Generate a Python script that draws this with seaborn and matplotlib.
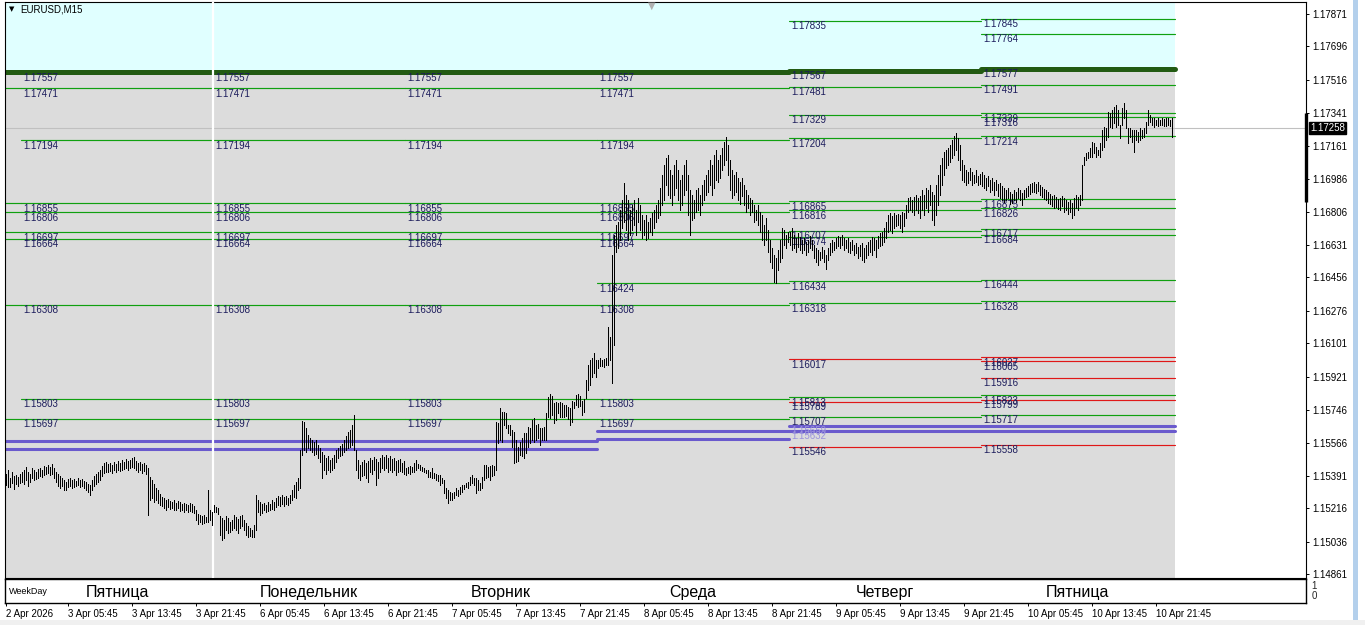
import numpy as np
import pandas as pd
import matplotlib
matplotlib.use("Agg")
import matplotlib.pyplot as plt
import matplotlib.transforms as mtransforms
from matplotlib.patches import Rectangle
import seaborn as sns

# ---- data ----------------------------------------------------------------
symbol = "EURUSD,M15"
# M15 bars per chart day (first block is the tail of Thursday 2 Apr)
day_names = ["", "Пятница", "Понедельник", "Вторник", "Среда", "Четверг", "Пятница"]
day_bars = [8, 96, 96, 96, 96, 96, 96]

# bar highs / lows in points (1e-5) above 1.15000
thu0_hi = [400, 420, 380, 410, 390, 395, 385, 400]
thu0_lo = [340, 330, 330, 350, 320, 345, 335, 350]
fri_hi = [410, 421, 437, 410, 400, 432, 421, 410, 427, 432,
          421, 443, 437, 448, 437, 453, 432, 410, 400, 389,
          378, 368, 357, 373, 378, 368, 373, 362, 378, 368,
          373, 362, 357, 346, 341, 368, 389, 400, 410, 421,
          443, 459, 464, 453, 459, 448, 464, 453, 470, 459,
          475, 464, 480, 470, 475, 486, 491, 470, 459, 464,
          453, 459, 448, 432, 384, 368, 346, 325, 314, 292,
          276, 271, 260, 265, 255, 249, 260, 244, 255, 249,
          239, 244, 239, 233, 244, 239, 228, 206, 185, 179,
          174, 179, 169, 314, 206, 196]
fri_lo = [357, 346, 368, 335, 357, 378, 368, 373, 378, 389,
          384, 394, 400, 405, 394, 400, 378, 357, 335, 325,
          335, 314, 314, 330, 335, 325, 330, 335, 341, 330,
          335, 325, 314, 303, 287, 314, 335, 346, 357, 368,
          389, 405, 410, 410, 416, 405, 421, 410, 421, 416,
          421, 427, 432, 421, 432, 437, 432, 421, 410, 421,
          405, 416, 400, 179, 260, 271, 249, 260, 244, 233,
          228, 217, 206, 222, 212, 217, 206, 206, 217, 201,
          206, 196, 206, 196, 201, 196, 190, 153, 131, 142,
          131, 136, 142, 142, 153, 126]
mon_hi = [233, 222, 217, 174, 163, 153, 174, 163, 142, 153,
          179, 169, 158, 174, 179, 153, 136, 120, 110, 99,
          126, 287, 260, 249, 239, 244, 233, 249, 239, 260,
          249, 271, 282, 276, 287, 276, 282, 271, 287, 314,
          341, 357, 378, 529, 684, 679, 647, 609, 593, 582,
          572, 582, 555, 539, 518, 502, 486, 496, 475, 486,
          502, 529, 539, 550, 561, 582, 604, 625, 636, 663,
          717, 529, 475, 448, 464, 475, 459, 470, 486, 475,
          491, 480, 464, 486, 502, 491, 502, 486, 496, 480,
          486, 470, 475, 480, 459, 470]
mon_lo = [196, 196, 185, 72, 45, 56, 99, 83, 88, 99,
          110, 99, 83, 110, 120, 99, 72, 61, 67, 61,
          61, 99, 196, 179, 190, 206, 196, 201, 206, 212,
          206, 222, 233, 228, 239, 228, 239, 233, 244, 260,
          276, 271, 314, 325, 502, 529, 518, 539, 529, 518,
          502, 507, 486, 464, 378, 421, 400, 421, 410, 421,
          432, 464, 486, 496, 502, 518, 529, 539, 545, 555,
          529, 421, 378, 368, 389, 394, 378, 357, 410, 400,
          421, 341, 378, 410, 432, 421, 432, 410, 421, 410,
          421, 394, 410, 416, 410, 400]
tue_hi = [432, 437, 443, 437, 459, 475, 453, 448, 437, 432,
          421, 421, 410, 432, 405, 400, 394, 394, 378, 367,
          325, 314, 303, 298, 303, 325, 314, 330, 341, 341,
          351, 357, 384, 394, 378, 378, 367, 351, 384, 448,
          448, 437, 443, 448, 443, 679, 674, 754, 733, 733,
          727, 663, 663, 636, 625, 582, 545, 572, 593, 620,
          620, 652, 647, 690, 701, 663, 668, 647, 647, 652,
          727, 813, 829, 819, 781, 787, 781, 787, 781, 770,
          770, 760, 754, 792, 787, 824, 829, 819, 792, 803,
          905, 985, 1012, 1023, 1050, 1012]
tue_lo = [394, 405, 400, 410, 410, 421, 432, 421, 416, 410,
          405, 384, 384, 378, 378, 367, 362, 341, 351, 298,
          271, 244, 260, 260, 271, 287, 282, 292, 303, 319,
          330, 325, 341, 351, 341, 298, 314, 314, 325, 367,
          378, 384, 367, 389, 394, 421, 566, 582, 572, 663,
          647, 620, 609, 545, 459, 464, 470, 502, 496, 486,
          513, 545, 566, 582, 572, 582, 593, 555, 582, 582,
          582, 706, 701, 717, 674, 690, 727, 706, 706, 706,
          711, 695, 663, 679, 754, 770, 760, 765, 717, 733,
          808, 851, 878, 921, 942, 921]
wed_hi = [1012, 1023, 1012, 1017, 1023, 1189, 1136, 1576, 1684, 1737,
          1753, 1818, 1872, 1963, 1898, 1872, 1818, 1845, 1872, 1818,
          1882, 1845, 1791, 1764, 1791, 1753, 1775, 1802, 1818, 1845,
          1872, 1936, 2006, 2060, 2097, 2113, 2033, 2006, 2060, 2087,
          2033, 1979, 2006, 2060, 2087, 2006, 1925, 1898, 1872, 1925,
          1936, 1898, 1952, 1979, 2006, 2033, 2087, 2060, 2113, 2140,
          2087, 2113, 2151, 2183, 2210, 2167, 2087, 2033, 2006, 2022,
          1990, 1968, 1990, 1952, 1925, 1898, 1882, 1872, 1845, 1818,
          1845, 1807, 1791, 1737, 1775, 1710, 1657, 1614, 1576, 1560,
          1603, 1657, 1721, 1710, 1684, 1700]
wed_lo = [969, 980, 980, 974, 985, 985, 1012, 888, 1093, 1592,
          1614, 1657, 1721, 1753, 1710, 1657, 1684, 1710, 1737, 1684,
          1753, 1710, 1667, 1684, 1657, 1667, 1700, 1684, 1721, 1753,
          1775, 1791, 1845, 1872, 1952, 1898, 1882, 1845, 1898, 1936,
          1872, 1818, 1845, 1898, 1925, 1791, 1684, 1764, 1775, 1807,
          1818, 1791, 1845, 1872, 1898, 1915, 1952, 1898, 1936, 1979,
          1968, 1990, 2033, 2060, 2087, 2006, 1925, 1882, 1898, 1915,
          1872, 1850, 1893, 1845, 1807, 1829, 1791, 1807, 1753, 1764,
          1737, 1700, 1657, 1630, 1657, 1592, 1539, 1506, 1431, 1426,
          1496, 1539, 1560, 1630, 1614, 1646]
thu_hi = [1700, 1721, 1684, 1667, 1694, 1673, 1657, 1667, 1646, 1657,
          1678, 1657, 1630, 1614, 1603, 1592, 1619, 1603, 1576, 1614,
          1641, 1657, 1646, 1667, 1678, 1673, 1684, 1667, 1657, 1667,
          1646, 1657, 1630, 1641, 1619, 1630, 1641, 1614, 1630, 1646,
          1657, 1673, 1667, 1657, 1678, 1694, 1700, 1721, 1753, 1791,
          1802, 1786, 1802, 1791, 1796, 1791, 1807, 1802, 1845, 1882,
          1888, 1872, 1888, 1898, 1882, 1893, 1925, 1898, 1936, 1925,
          1952, 1915, 1898, 1952, 2006, 2060, 2097, 2129, 2140, 2151,
          2167, 2194, 2215, 2232, 2205, 2167, 2087, 2060, 2033, 2022,
          2044, 2022, 2006, 2033, 2001, 2011]
thu_lo = [1630, 1603, 1614, 1592, 1619, 1603, 1587, 1603, 1576, 1592,
          1614, 1603, 1560, 1539, 1522, 1549, 1560, 1539, 1501, 1549,
          1576, 1592, 1603, 1614, 1625, 1614, 1630, 1603, 1614, 1592,
          1587, 1603, 1576, 1587, 1560, 1571, 1549, 1539, 1560, 1576,
          1592, 1576, 1603, 1565, 1614, 1625, 1630, 1646, 1667, 1700,
          1710, 1694, 1721, 1732, 1737, 1721, 1700, 1732, 1775, 1807,
          1818, 1807, 1791, 1818, 1802, 1775, 1818, 1791, 1829, 1807,
          1845, 1764, 1737, 1791, 1845, 1898, 1952, 2006, 2044, 2060,
          2076, 2097, 2113, 2140, 2087, 2033, 1979, 1968, 1952, 1963,
          1979, 1952, 1963, 1968, 1952, 1958]
fri2_hi = [2022, 2006, 1990, 2001, 1979, 1990, 1968, 1979, 1958, 1963,
           1947, 1936, 1925, 1936, 1915, 1904, 1925, 1915, 1936, 1925,
           1909, 1925, 1936, 1947, 1958, 1963, 1968, 1958, 1968, 1952,
           1941, 1931, 1925, 1915, 1904, 1893, 1898, 1888, 1877, 1882,
           1893, 1882, 1872, 1861, 1872, 1856, 1882, 1898, 1888, 1898,
           2060, 2103, 2124, 2129, 2151, 2183, 2178, 2156, 2140, 2178,
           2248, 2264, 2258, 2344, 2339, 2355, 2371, 2382, 2355, 2275,
           2366, 2393, 2355, 2258, 2258, 2248, 2248, 2248, 2237, 2258,
           2248, 2258, 2291, 2355, 2328, 2312, 2312, 2301, 2312, 2301,
           2312, 2307, 2312, 2312, 2301, 2312]
fri2_lo = [1947, 1936, 1925, 1947, 1915, 1925, 1898, 1925, 1893, 1882,
           1872, 1861, 1872, 1882, 1850, 1856, 1872, 1861, 1882, 1872,
           1845, 1877, 1888, 1893, 1904, 1915, 1915, 1909, 1920, 1898,
           1888, 1877, 1872, 1856, 1850, 1839, 1829, 1834, 1823, 1818,
           1839, 1807, 1818, 1796, 1807, 1775, 1791, 1829, 1818, 1845,
           1872, 2060, 2087, 2097, 2103, 2103, 2124, 2103, 2113, 2103,
           2140, 2156, 2194, 2210, 2264, 2258, 2285, 2264, 2275, 2205,
           2275, 2312, 2258, 2178, 2210, 2183, 2130, 2194, 2183, 2194,
           2205, 2210, 2232, 2275, 2291, 2275, 2264, 2275, 2269, 2275,
           2275, 2269, 2269, 2275, 2269, 2210]

# daily levels, one entry per chart day block
thick_levels = [1.17557, 1.17557, 1.17557, 1.17557, 1.17557, 1.17567, 1.17577]
green_levels = [
    [1.17471, 1.16855, 1.16806, 1.16697, 1.16664, 1.16308, 1.15697],
    [1.17471, 1.17194, 1.16855, 1.16806, 1.16697, 1.16664, 1.16308, 1.15803, 1.15697],
    [1.17471, 1.17194, 1.16855, 1.16806, 1.16697, 1.16664, 1.16308, 1.15803, 1.15697],
    [1.17471, 1.17194, 1.16855, 1.16806, 1.16697, 1.16664, 1.16308, 1.15803, 1.15697],
    [1.17471, 1.17194, 1.16855, 1.16806, 1.16697, 1.16664, 1.16424, 1.16308, 1.15803, 1.15697],
    [1.17835, 1.17481, 1.17329, 1.17204, 1.16865, 1.16816, 1.16707, 1.16674, 1.16434,
     1.16318, 1.15813, 1.15707],
    [1.17845, 1.17764, 1.17491, 1.17339, 1.17316, 1.17214, 1.16875, 1.16826, 1.16717,
     1.16684, 1.16444, 1.16328, 1.15823, 1.15717],
]
red_levels = [[], [], [], [], [],
              [1.16017, 1.15789, 1.15546],
              [1.16027, 1.16005, 1.15916, 1.15799, 1.15558]]
blue_levels = [[1.15577, 1.15534], [1.15577, 1.15534], [1.15577, 1.15534], [1.15577, 1.15534],
               [1.15631, 1.15588], [1.15659, 1.15632], [1.15659, 1.15632]]
blue_labelled = [False, False, False, False, False, True, False]

price_ticks = [1.17871, 1.17696, 1.17516, 1.17341, 1.17161, 1.16986, 1.16806, 1.16631,
               1.16456, 1.16276, 1.16101, 1.15921, 1.15746, 1.15566, 1.15391, 1.15216,
               1.15036, 1.14861]
last_price = 1.17258
day_range = (1.17340, 1.16862)
date_labels = ["2 Apr 2026", "3 Apr 05:45", "3 Apr 13:45", "3 Apr 21:45", "6 Apr 05:45",
               "6 Apr 13:45", "6 Apr 21:45", "7 Apr 05:45", "7 Apr 13:45", "7 Apr 21:45",
               "8 Apr 05:45", "8 Apr 13:45", "8 Apr 21:45", "9 Apr 05:45", "9 Apr 13:45",
               "9 Apr 21:45", "10 Apr 05:45", "10 Apr 13:45", "10 Apr 21:45"]

# ---- prep ----------------------------------------------------------------
hi = 1.15 + np.array(thu0_hi + fri_hi + mon_hi + tue_hi + wed_hi + thu_hi + fri2_hi) / 1e5
lo = 1.15 + np.array(thu0_lo + fri_lo + mon_lo + tue_lo + wed_lo + thu_lo + fri2_lo) / 1e5
idx = np.arange(len(hi))

times = pd.DatetimeIndex(
    list(pd.date_range("2026-04-02 22:00", periods=sum(day_bars[:2]), freq="15min"))
    + list(pd.date_range("2026-04-06 00:00", periods=sum(day_bars[2:]), freq="15min")))
tick_pos = [0]
for lab in date_labels[1:]:
    d, m, hm = lab.split()
    tick_pos.append(times.get_loc(pd.Timestamp(f"{d} {m} 2026 {hm}")))

ends = np.cumsum(day_bars)
starts = ends - np.array(day_bars)
n_seg = len(day_bars)

rows = []
lid = 0
for s in range(n_seg):
    a = starts[s] - 0.5
    b = ends[s] - 0.5 if s < n_seg - 1 else ends[s] + 0.5
    for kind, vals in (("green", green_levels[s]), ("red", red_levels[s]),
                       ("blue", blue_levels[s]), ("thick", [thick_levels[s]])):
        for v in vals:
            rows.append((lid, kind, a, v))
            rows.append((lid, kind, b, v))
            lid += 1
levels = pd.DataFrame(rows, columns=["lid", "kind", "x", "price"])

# ---- plot ----------------------------------------------------------------
sns.set_style("white")
plt.rcParams['font.family'] = ['Liberation Sans', 'DejaVu Sans']

W, H = 1365, 625
fig = plt.figure(figsize=(W / 100, H / 100), dpi=100, facecolor="white")

def px_box(x0, y0, x1, y1):
    return [x0 / W, 1 - y1 / H, (x1 - x0) / W, (y1 - y0) / H]

ax = fig.add_axes(px_box(5, 2, 1306, 578))
ax.set_facecolor("white")
y_top, y_bot = 1.17935, 1.14841
x_end = ends[-1] + 0.5
ax.set_xlim(-0.5, 650)
ax.set_ylim(y_bot, y_top)

ax.axvspan(-0.5, x_end, color="#dcdcdc", lw=0, zorder=0)
for s in range(n_seg):
    a = starts[s] - 0.5
    b = ends[s] - 0.5 if s < n_seg - 1 else x_end
    ax.fill_between([a, b], thick_levels[s], y_top, color="#e0ffff", lw=0, zorder=0.5)

ax.axhline(last_price, color="#c0c0c0", lw=0.8, zorder=1)

styles = {"green": ("#10a010", 0.85), "red": ("#e01818", 0.85),
          "blue": ("#6a5acd", 2.2), "thick": ("#225a12", 3.6)}
for kind, (col, lw) in styles.items():
    sub = levels[levels["kind"] == kind]
    if len(sub):
        sns.lineplot(data=sub, x="x", y="price", units="lid", estimator=None, sort=False,
                     color=col, lw=lw, ax=ax, legend=False, zorder=2)

# level captions
for s in range(1, n_seg):
    x0 = starts[s] + 0.5
    labs = [thick_levels[s]] + green_levels[s] + red_levels[s]
    for v in labs:
        ax.text(x0, v - 0.00003, f"{v:.5f}", fontsize=7, color="#1c1c5c",
                ha="left", va="top", zorder=2.5)
    if blue_labelled[s]:
        for v in blue_levels[s]:
            ax.text(x0, v - 0.00003, f"{v:.5f}", fontsize=7, color="#9b93dc",
                    ha="left", va="top", zorder=2.5)

# week separator
ax.axvline(starts[2] - 0.5, color="white", lw=1.6, zorder=2.7)

# price bars
ax.vlines(idx, lo, hi, colors="black", lw=0.7, antialiased=False, zorder=3)

ax.set_xlabel("")
ax.set_ylabel("")
ax.set_xticks([])
ax.yaxis.tick_right()
ax.set_yticks(price_ticks)
ax.set_yticklabels([f"{v:.5f}" for v in price_ticks], fontsize=7)
ax.tick_params(axis="y", which="both", left=False, right=True, length=2.5, width=0.7,
               pad=2, colors="black", direction="out")
for sp in ax.spines.values():
    sp.set_color("black")
    sp.set_linewidth(0.8)
    sp.set_visible(True)

trans = mtransforms.blended_transform_factory(ax.transAxes, ax.transData)
ax.annotate(f"{last_price:.5f}", xy=(1, last_price), xycoords=trans, xytext=(3, 0),
            textcoords="offset points", fontsize=7, color="white", va="center", ha="left",
            bbox=dict(boxstyle="square,pad=0.12", fc="black", ec="black"), zorder=5,
            annotation_clip=False)
ax.plot([1, 1], list(day_range), transform=trans, color="black", lw=2.4,
        clip_on=False, zorder=5, solid_capstyle="butt")

ax.text(0.003, 0.993, "▼", transform=ax.transAxes, fontsize=5, color="black",
        ha="left", va="top", family="DejaVu Sans")
ax.text(0.012, 0.995, symbol, transform=ax.transAxes, fontsize=7, color="black",
        ha="left", va="top")
fig.text(652 / W, 1 - 1 / H, "▼", fontsize=7, color="#b0b0b0", ha="center", va="top",
         family="DejaVu Sans")

# weekday sub-window
axw = fig.add_axes(px_box(5, 579, 1306, 603))
axw.set_facecolor("white")
axw.set_xlim(-0.5, 650)
axw.set_ylim(0, 1)
axw.set_yticks([])
for sp in axw.spines.values():
    sp.set_color("black")
    sp.set_linewidth(1.0)
    sp.set_visible(True)
axw.text(0.003, 0.5, "WeekDay", transform=axw.transAxes, fontsize=6.5, ha="left",
         va="center", color="black")
for s in range(1, n_seg):
    axw.text((starts[s] + ends[s]) / 2 - 0.5, 0.45, day_names[s], fontsize=11.5,
             ha="center", va="center", color="black")
axw.text(1.004, 0.72, "1", transform=axw.transAxes, fontsize=7, ha="left", va="center")
axw.text(1.004, 0.28, "0", transform=axw.transAxes, fontsize=7, ha="left", va="center")
axw.set_xticks(tick_pos)
axw.set_xticklabels(date_labels, fontsize=7, ha="left")
axw.tick_params(axis="x", bottom=True, length=2.5, width=0.7, pad=1.5, colors="black",
                direction="out")

# window chrome
fig.add_artist(Rectangle((1353 / W, 0), 5 / W, 1, transform=fig.transFigure,
                         fc="#b4d0ec", ec="none"))
fig.add_artist(Rectangle((0, 0), 1, 5 / H, transform=fig.transFigure,
                         fc="#f0f0f0", ec="none"))

fig.savefig("out.png", dpi=100, facecolor="white")
plt.close(fig)
